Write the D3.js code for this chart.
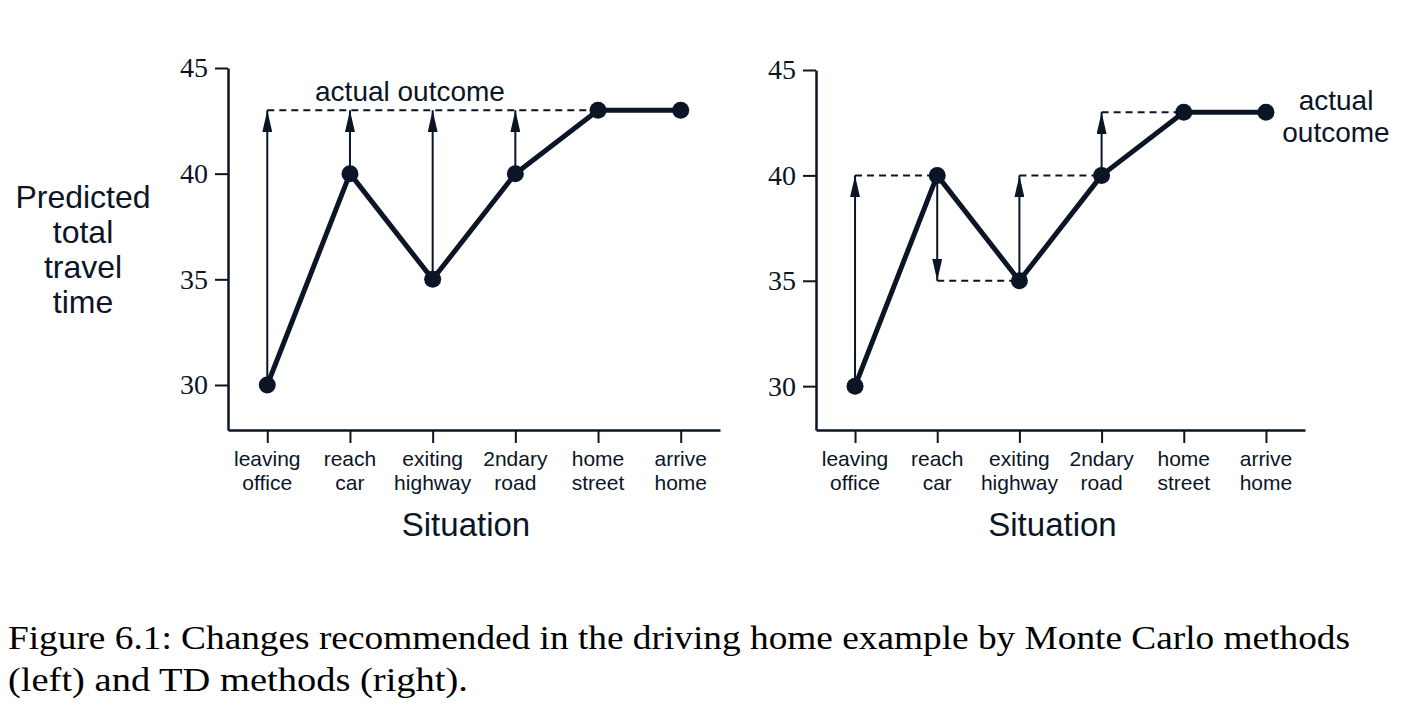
<!DOCTYPE html>
<html>
<head>
<meta charset="utf-8">
<script src="https://cdn.jsdelivr.net/npm/d3@7/dist/d3.min.js"></script>
<style>
  html, body { margin: 0; padding: 0; background: #fff; }
  svg { display: block; }
</style>
</head>
<body>
<svg id="fig" width="1407" height="708"></svg>
<script>
// ---- data ----
const categories = ["leaving office", "reach car", "exiting highway", "2ndary road", "home street", "arrive home"];
const categoryLines = [["leaving", "office"], ["reach", "car"], ["exiting", "highway"], ["2ndary", "road"], ["home", "street"], ["arrive", "home"]];
const predicted = [30, 40, 35, 40, 43, 43];
const actualOutcome = 43;
const yTicks = [30, 35, 40, 45];
const yLabelLines = ["Predicted", "total", "travel", "time"];
const xTitle = "Situation";
const captionLines = [
  "Figure 6.1: Changes recommended in the driving home example by Monte Carlo methods",
  "(left) and TD methods (right)."
];

const ink = "#0b1526";
const svg = d3.select("#fig");

const defs = svg.append("defs");
defs.append("marker")
  .attr("id", "head")
  .attr("viewBox", "0 0 22 10")
  .attr("refX", 22).attr("refY", 5)
  .attr("markerWidth", 22).attr("markerHeight", 10)
  .attr("markerUnits", "userSpaceOnUse")
  .attr("orient", "auto")
  .append("path")
  .attr("d", "M0,0 L22,5 L0,10 Z")
  .attr("fill", ink);

function drawPanel(opts) {
  const g = svg.append("g");
  const x = d3.scalePoint().domain(categories).range([opts.x0, opts.x1]).padding(0.475);
  const y = d3.scaleLinear().domain([opts.yMin, 45]).range([opts.yBottom, opts.yTop]);

  // y axis
  const ya = g.append("g").attr("transform", `translate(${opts.x0},0)`)
    .call(d3.axisLeft(y).tickValues(yTicks).tickSize(13).tickSizeOuter(0).tickPadding(7));
  ya.select(".domain").attr("stroke", ink).attr("stroke-width", 2.5);
  ya.selectAll(".tick line").attr("stroke", ink).attr("stroke-width", 2);
  ya.selectAll(".tick text").attr("fill", ink)
    .style("font-family", "'Liberation Serif', 'Times New Roman', serif")
    .style("font-size", "28px");

  // x axis
  const xa = g.append("g").attr("transform", `translate(0,${opts.yBottom})`)
    .call(d3.axisBottom(x).tickSize(13).tickSizeOuter(0).tickFormat(""));
  xa.select(".domain").attr("stroke", ink).attr("stroke-width", 2.5);
  xa.selectAll(".tick line").attr("stroke", ink).attr("stroke-width", 2);

  // x tick labels (two lines)
  const lab = g.append("g")
    .style("font-family", "'Liberation Sans', Arial, sans-serif")
    .style("font-size", "21px").attr("fill", ink).attr("text-anchor", "middle");
  categories.forEach((c, i) => {
    const t = lab.append("text").attr("x", x(c)).attr("y", opts.yBottom + 36);
    categoryLines[i].forEach((s, k) => {
      t.append("tspan").attr("x", x(c)).attr("dy", k === 0 ? 0 : 24).text(s);
    });
  });

  // x title
  g.append("text").attr("x", (opts.x0 + opts.x1) / 2 - 8).attr("y", opts.yBottom + 106)
    .attr("text-anchor", "middle").attr("fill", ink)
    .style("font-family", "'Liberation Sans', Arial, sans-serif").style("font-size", "33px")
    .text(xTitle);

  // dashed target lines
  g.append("g").selectAll("line").data(opts.dashes).join("line")
    .attr("x1", d => x(categories[d.from])).attr("x2", d => x(categories[d.to]))
    .attr("y1", d => y(d.v)).attr("y2", d => y(d.v))
    .attr("stroke", ink).attr("stroke-width", 2).attr("stroke-dasharray", "7,5");

  // arrows
  g.append("g").selectAll("line").data(opts.arrows).join("line")
    .attr("x1", d => x(categories[d.i])).attr("x2", d => x(categories[d.i]))
    .attr("y1", d => y(d.from))
    .attr("y2", d => y(d.to))
    .attr("stroke", ink).attr("stroke-width", 2)
    .attr("marker-end", "url(#head)");

  // predicted line
  const line = d3.line().x((d, i) => x(categories[i])).y(d => y(d));
  g.append("path").datum(predicted).attr("d", line)
    .attr("fill", "none").attr("stroke", ink).attr("stroke-width", 5).attr("stroke-linejoin", "round");
  g.append("g").selectAll("circle").data(predicted).join("circle")
    .attr("cx", (d, i) => x(categories[i])).attr("cy", d => y(d)).attr("r", 8.5).attr("fill", ink);

  return { g, x, y };
}

// ---- left panel: Monte Carlo ----
const mcArrows = predicted.slice(0, 5).map((v, i) => ({ i, from: v, to: actualOutcome })).filter(d => d.from !== d.to);
const left = drawPanel({
  x0: 228, x1: 720, yTop: 68, yBottom: 430, yMin: 27.87,
  arrows: mcArrows,
  dashes: [{ from: 0, to: 4, v: actualOutcome }]
});
left.g.append("text").attr("x", 410).attr("y", 101).attr("text-anchor", "middle").attr("fill", ink)
  .style("font-family", "'Liberation Sans', Arial, sans-serif").style("font-size", "28px")
  .text("actual outcome");

// ---- right panel: TD ----
const tdArrows = predicted.slice(0, 5).map((v, i) => ({ i, from: v, to: predicted[i + 1] })).filter(d => d.from !== d.to);
const tdDashes = tdArrows.map(d => ({ from: d.i, to: d.i + 1, v: d.to }));
const right = drawPanel({
  x0: 816, x1: 1305, yTop: 70, yBottom: 430, yMin: 27.92,
  arrows: tdArrows,
  dashes: tdDashes
});
const ao = right.g.append("text").attr("text-anchor", "middle").attr("fill", ink)
  .style("font-family", "'Liberation Sans', Arial, sans-serif").style("font-size", "28px");
ao.append("tspan").attr("x", 1336).attr("y", 110).text("actual");
ao.append("tspan").attr("x", 1336).attr("y", 142).text("outcome");

// ---- y label ----
const yl = svg.append("text").attr("text-anchor", "middle").attr("fill", ink)
  .style("font-family", "'Liberation Sans', Arial, sans-serif").style("font-size", "32px");
yLabelLines.forEach((s, k) => {
  yl.append("tspan").attr("x", 83).attr("y", 208 + k * 35).text(s);
});

// ---- caption ----
const cap = svg.append("g").style("font-family", "'Liberation Serif', 'Times New Roman', serif")
  .style("font-size", "33px").attr("fill", "#000");
cap.append("text").attr("x", 8).attr("y", 649).attr("textLength", 1342).attr("lengthAdjust", "spacingAndGlyphs").text(captionLines[0]);
cap.append("text").attr("x", 8).attr("y", 691).attr("textLength", 460).attr("lengthAdjust", "spacingAndGlyphs").text(captionLines[1]);
</script>
</body>
</html>
